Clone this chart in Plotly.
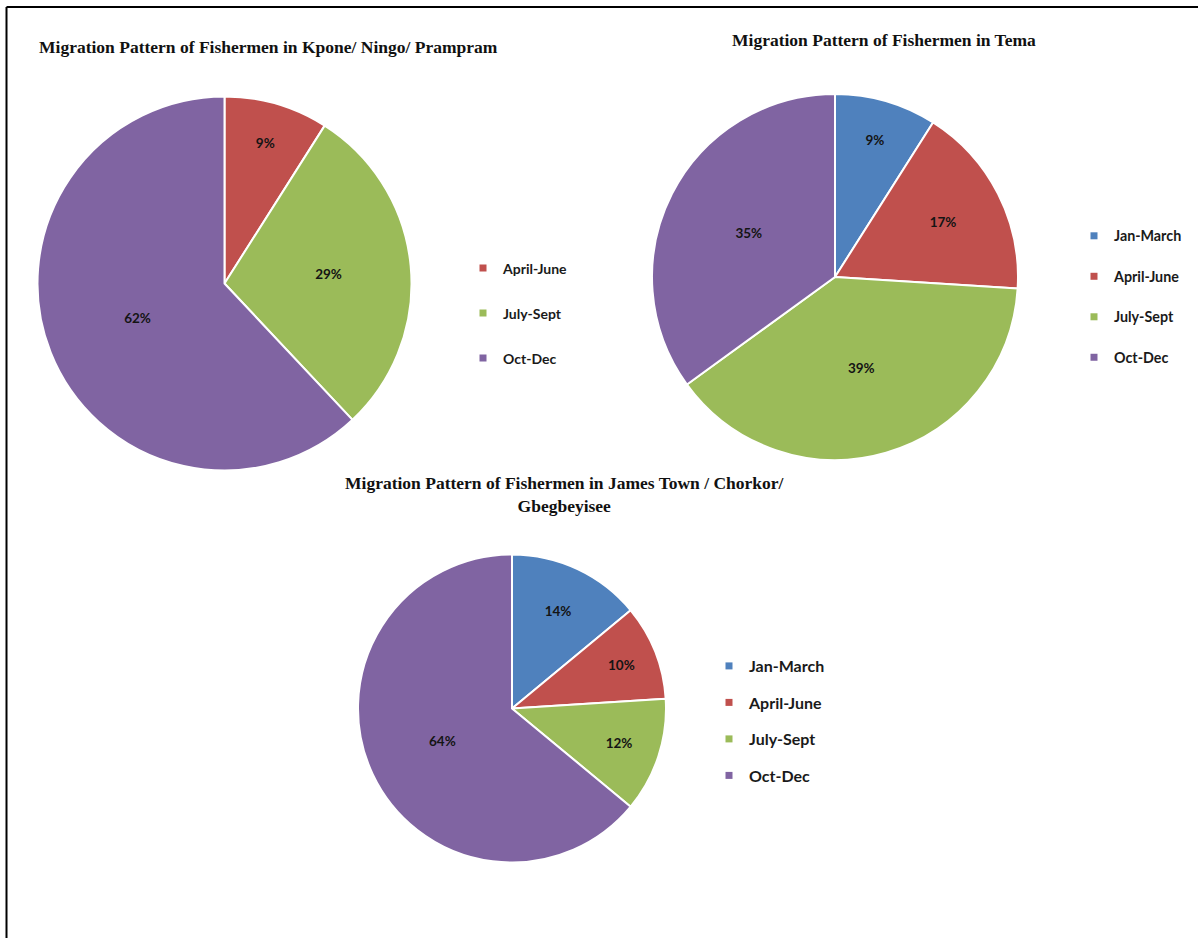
import plotly.graph_objects as go

# data
periods_kpone = ["April-June", "July-Sept", "Oct-Dec"]
share_kpone = [9, 29, 62]

periods_tema = ["Jan-March", "April-June", "July-Sept", "Oct-Dec"]
share_tema = [9, 17, 39, 35]

periods_james = ["Jan-March", "April-June", "July-Sept", "Oct-Dec"]
share_james = [14, 10, 12, 64]

period_colors = {"Jan-March": "#4F81BD", "April-June": "#C0504D",
                 "July-Sept": "#9BBB59", "Oct-Dec": "#8064A2"}

W, H = 1198, 938
label_font = dict(family="Lato", size=13.5, color="#141414", weight="bold")
title_font = dict(family="Liberation Serif", size=17.5, color="#111111", weight="bold")


def dom(cx, cy, r):
    # pixel centre / radius -> paper domain
    return dict(x=[(cx - r) / W, (cx + r) / W], y=[1 - (cy + r) / H, 1 - (cy - r) / H])


def legfont(size):
    return dict(family="Lato", size=size, color="#1a1a1a", weight="bold")


fig = go.Figure()


def add_pie(labels, values, domain):
    fig.add_pie(labels=labels, values=values, domain=domain,
                sort=False, direction="clockwise", rotation=0,
                marker=dict(colors=[period_colors[p] for p in labels], line=dict(color="white", width=2)),
                texttemplate="%{value}%", textposition="inside",
                insidetextorientation="horizontal", textfont=label_font,
                showlegend=False, hoverinfo="label+percent")


def add_legend(labels, legend):
    for p in labels:
        fig.add_scatter(x=[None], y=[None], mode="markers", name=p,
                        marker=dict(symbol="square", size=7, color=period_colors[p]),
                        legend=legend, legendgroup=legend + p)


add_pie(periods_kpone, share_kpone, dom(224.5, 283.5, 187))
add_pie(periods_tema, share_tema, dom(835, 277, 183))
add_pie(periods_james, share_james, dom(512, 708.5, 154))

add_legend(periods_kpone, "legend")
add_legend(periods_tema, "legend2")
add_legend(periods_james, "legend3")

leg = dict(xanchor="left", yanchor="top", bgcolor="rgba(0,0,0,0)", borderwidth=0,
           traceorder="grouped")

fig.update_layout(
    width=W, height=H,
    margin=dict(l=0, r=0, t=0, b=0),
    paper_bgcolor="white", plot_bgcolor="white",
    xaxis=dict(visible=False), yaxis=dict(visible=False),
    legend=dict(leg, x=463 / W, y=1 - 252.5 / H, tracegroupgap=23.8, font=legfont(14)),
    legend2=dict(leg, x=1074 / W, y=1 - 220 / H, tracegroupgap=18.9, font=legfont(14.3)),
    legend3=dict(leg, x=709 / W, y=1 - 649 / H, tracegroupgap=12.7, font=legfont(16)),
    annotations=[
        dict(text="Migration Pattern of Fishermen in Kpone/ Ningo/ Prampram",
             x=37 / W, y=1 - 47 / H, xanchor="left", yanchor="middle"),
        dict(text="Migration Pattern of Fishermen in Tema",
             x=884 / W, y=1 - 40 / H, xanchor="center", yanchor="middle"),
        dict(text="Migration Pattern of Fishermen in James Town / Chorkor/<br>Gbegbeyisee",
             x=565 / W, y=1 - 494.5 / H, xanchor="center", yanchor="middle"),
    ],
    shapes=[
        dict(type="line", xref="paper", yref="paper", x0=6.5 / W, x1=1, y0=1 - 7 / H, y1=1 - 7 / H,
             line=dict(color="black", width=2)),
        dict(type="line", xref="paper", yref="paper", x0=6.5 / W, x1=6.5 / W, y0=0, y1=1 - 7 / H,
             line=dict(color="black", width=2)),
    ],
)
fig.update_annotations(xref="paper", yref="paper", showarrow=False, font=title_font)

# page body has an 8px default margin; drop it so the figure sits at 0,0
fig.write_html("out.html", config={"displayModeBar": False},
               post_script="document.body.style.margin='0';")
